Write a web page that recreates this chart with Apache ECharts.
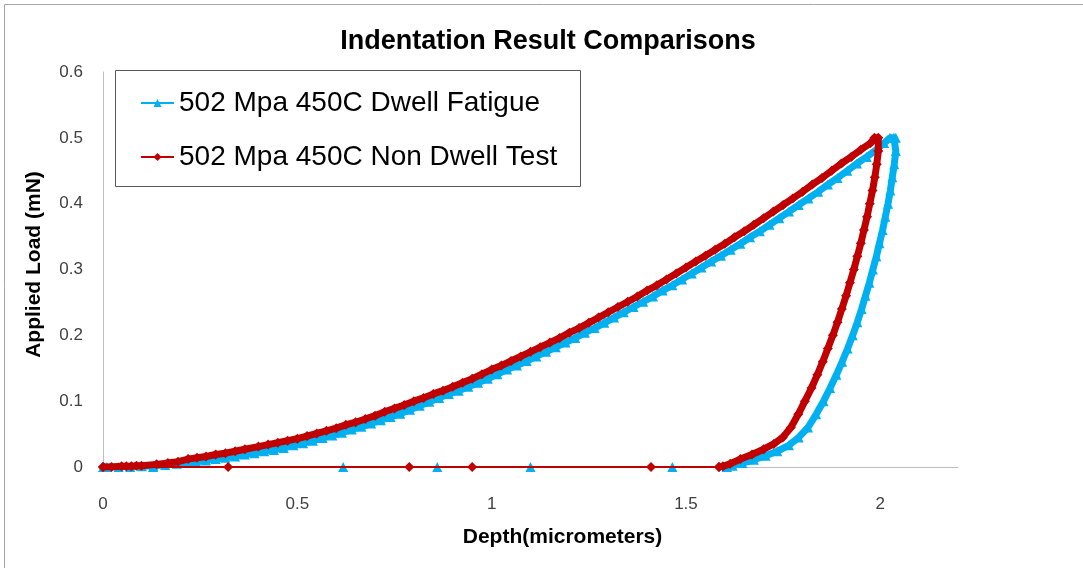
<!DOCTYPE html>
<html>
<head>
<meta charset="utf-8">
<script src="https://cdn.jsdelivr.net/npm/echarts@6/dist/echarts.min.js"></script>
<style>
  html, body { margin: 0; padding: 0; background: #ffffff; }
  #chart { width: 1083px; height: 568px; }
</style>
</head>
<body>
<div id="chart"></div>
<script>
const chartTitle = 'Indentation Result Comparisons';
const seriesNames = ['502 Mpa 450C Dwell Fatigue', '502 Mpa 450C Non Dwell Test'];
const xAxisTitle = 'Depth(micrometers)';
const yAxisTitle = 'Applied Load (mN)';
const xTickLabels = ['0', '0.5', '1', '1.5', '2'];
const yTickLabels = ['0', '0.1', '0.2', '0.3', '0.4', '0.5', '0.6'];

// Dwell fatigue test: loading, hold at peak, unloading (depth in micrometers, load in mN)
const dwellDepth = [
  0.000, 0.040, 0.070, 0.100, 0.130, 0.160, 0.190,
  0.215, 0.240, 0.265, 0.290, 0.315, 0.340, 0.365, 0.390, 0.415, 0.440,
  0.465, 0.490, 0.515, 0.540, 0.565, 0.590, 0.615, 0.640, 0.665, 0.690,
  0.715, 0.740, 0.765, 0.790, 0.815, 0.840, 0.865, 0.890, 0.915, 0.940,
  0.965, 0.990, 1.015, 1.040, 1.065, 1.090, 1.115, 1.140, 1.165, 1.190,
  1.215, 1.240, 1.265, 1.290, 1.315, 1.340, 1.365, 1.390, 1.415, 1.440,
  1.465, 1.490, 1.515, 1.540, 1.565, 1.590, 1.615, 1.640, 1.665, 1.690,
  1.715, 1.740, 1.765, 1.790, 1.815, 1.840, 1.865, 1.890, 1.915, 1.940,
  1.965, 1.990, 2.010, 2.025, 2.035,
  2.040, 2.040, 2.036, 2.031, 2.026, 2.020, 2.013, 2.006, 1.998, 1.990,
  1.981, 1.972, 1.962, 1.952, 1.941, 1.929, 1.916, 1.902, 1.887, 1.871,
  1.854, 1.835, 1.814, 1.790, 1.765, 1.735, 1.705, 1.675, 1.645, 1.620, 1.605
];
const dwellLoad = [
  0.000, 0.000, 0.000, 0.001, 0.002, 0.003, 0.005,
  0.006, 0.008, 0.010, 0.012, 0.014, 0.016, 0.019, 0.021, 0.024, 0.026,
  0.029, 0.033, 0.036, 0.040, 0.044, 0.048, 0.052, 0.057, 0.061, 0.066,
  0.071, 0.076, 0.081, 0.087, 0.093, 0.099, 0.105, 0.111, 0.116, 0.122,
  0.128, 0.134, 0.141, 0.148, 0.154, 0.161, 0.168, 0.175, 0.182, 0.189,
  0.196, 0.204, 0.211, 0.219, 0.227, 0.235, 0.243, 0.251, 0.259, 0.268,
  0.276, 0.285, 0.294, 0.303, 0.312, 0.321, 0.330, 0.339, 0.349, 0.358,
  0.368, 0.378, 0.388, 0.398, 0.408, 0.418, 0.429, 0.439, 0.450, 0.461,
  0.471, 0.482, 0.492, 0.500, 0.500,
  0.500, 0.480, 0.460, 0.440, 0.420, 0.400, 0.380, 0.360, 0.340, 0.320,
  0.300, 0.280, 0.260, 0.240, 0.220, 0.200, 0.180, 0.160, 0.140, 0.120,
  0.100, 0.080, 0.060, 0.045, 0.033, 0.024, 0.017, 0.011, 0.006, 0.002, 0.000
];
// Dwell fatigue test: zero-load return points
const dwellReturnDepth = [1.605, 1.465, 1.100, 0.860, 0.618, 0.129, 0.010];
const dwellReturnLoad = [0, 0, 0, 0, 0, 0, 0];

// Non-dwell test: loading, hold at peak, unloading
const nonDwellDepth = [
  0.000, 0.022, 0.048, 0.060, 0.073, 0.086, 0.099, 0.138, 0.167, 0.193,
  0.219, 0.242, 0.265, 0.290, 0.315, 0.340, 0.365,
  0.400, 0.425, 0.450, 0.475, 0.500, 0.525, 0.550, 0.575, 0.600, 0.625,
  0.650, 0.675, 0.700, 0.725, 0.750, 0.775, 0.800, 0.825, 0.850, 0.875,
  0.900, 0.925, 0.950, 0.975, 1.000, 1.025, 1.050, 1.075, 1.100, 1.125,
  1.150, 1.175, 1.200, 1.225, 1.250, 1.275, 1.300, 1.325, 1.350, 1.375,
  1.400, 1.425, 1.450, 1.475, 1.500, 1.525, 1.550, 1.575, 1.600, 1.625,
  1.650, 1.675, 1.700, 1.725, 1.750, 1.775, 1.800, 1.825, 1.850, 1.875,
  1.900, 1.925, 1.950, 1.975, 1.985,
  1.995, 1.995, 1.991, 1.986, 1.980, 1.973, 1.966, 1.958, 1.950, 1.941,
  1.932, 1.922, 1.912, 1.901, 1.890, 1.878, 1.865, 1.852, 1.838, 1.823,
  1.806, 1.789, 1.770, 1.749, 1.726, 1.700, 1.670, 1.640, 1.614, 1.595, 1.585
];
const nonDwellLoad = [
  0.000, 0.000, 0.001, 0.001, 0.001, 0.002, 0.002, 0.004, 0.006, 0.008,
  0.012, 0.014, 0.016, 0.019, 0.021, 0.024, 0.027,
  0.031, 0.034, 0.037, 0.040, 0.043, 0.047, 0.051, 0.055, 0.059, 0.064,
  0.068, 0.073, 0.078, 0.084, 0.089, 0.094, 0.100, 0.105, 0.111, 0.116,
  0.122, 0.128, 0.134, 0.141, 0.148, 0.154, 0.161, 0.168, 0.175, 0.182,
  0.189, 0.196, 0.204, 0.211, 0.219, 0.227, 0.235, 0.243, 0.251, 0.259,
  0.268, 0.276, 0.285, 0.294, 0.303, 0.312, 0.321, 0.330, 0.339, 0.349,
  0.358, 0.368, 0.378, 0.388, 0.398, 0.408, 0.418, 0.429, 0.439, 0.450,
  0.461, 0.471, 0.482, 0.492, 0.500,
  0.500, 0.480, 0.460, 0.440, 0.420, 0.400, 0.380, 0.360, 0.340, 0.320,
  0.300, 0.280, 0.260, 0.240, 0.220, 0.200, 0.180, 0.160, 0.140, 0.120,
  0.100, 0.080, 0.060, 0.045, 0.035, 0.027, 0.019, 0.012, 0.005, 0.001, 0.000
];
// Non-dwell test: zero-load return points
const nonDwellReturnDepth = [1.585, 1.410, 0.950, 0.788, 0.322, 0.000];
const nonDwellReturnLoad = [0, 0, 0, 0, 0, 0];

const BLUE = '#00B0F0';
const RED = '#C00000';
const FONT = 'Liberation Sans';

function pairs(xs, ys) {
  return xs.map((x, i) => [x, ys[i]]);
}

const chart = echarts.init(document.getElementById('chart'), null, { renderer: 'canvas' });

chart.setOption({
  animation: false,
  backgroundColor: '#ffffff',
  title: {
    text: chartTitle,
    left: 548,
    top: 28,
    padding: 0,
    textAlign: 'center',
    textStyle: { fontFamily: FONT, fontSize: 27, fontWeight: 'bold', color: '#000000' }
  },
  legend: {
    data: seriesNames,
    orient: 'vertical',
    left: 140,
    top: 89,
    padding: 0,
    itemWidth: 33,
    itemHeight: 10,
    itemGap: 26,
    lineStyle: { width: 2 },
    textStyle: { fontFamily: FONT, fontSize: 28, color: '#000000' }
  },
  grid: { left: 103, right: 125, top: 72, bottom: 101, containLabel: false },
  xAxis: {
    type: 'value',
    min: 0,
    max: 2.2,
    interval: 0.5,
    name: xAxisTitle,
    nameLocation: 'middle',
    nameGap: 60,
    nameTextStyle: {
      fontFamily: FONT, fontSize: 21, fontWeight: 'bold', color: '#000000',
      padding: [0, 0, 0, 64]
    },
    axisLine: { show: true, lineStyle: { color: '#BFBFBF', width: 1 } },
    axisTick: { show: false },
    splitLine: { show: false },
    axisLabel: {
      showMaxLabel: false,
      margin: 29,
      fontFamily: FONT,
      fontSize: 17,
      color: '#404040',
      formatter: v => {
        const s = String(+v.toFixed(2));
        return xTickLabels.includes(s) ? s : '';
      }
    }
  },
  yAxis: {
    type: 'value',
    min: 0,
    max: 0.6,
    interval: 0.1,
    name: yAxisTitle,
    nameLocation: 'middle',
    nameGap: 58,
    nameRotate: 90,
    nameTextStyle: {
      fontFamily: FONT, fontSize: 21, fontWeight: 'bold', color: '#000000',
      padding: [0, 0, 0, 10]
    },
    axisLine: { show: true, lineStyle: { color: '#BFBFBF', width: 1 } },
    axisTick: { show: false },
    splitLine: { show: false },
    axisLabel: {
      margin: 20,
      fontFamily: FONT,
      fontSize: 17,
      color: '#404040',
      formatter: v => {
        const s = String(+v.toFixed(2));
        return yTickLabels.includes(s) ? s : '';
      }
    }
  },
  graphic: [
    {
      type: 'polyline',
      silent: true,
      shape: { points: [[4.5, 568], [4.5, 4.5], [1083, 4.5]] },
      style: { stroke: '#A6A6A6', lineWidth: 1, fill: null }
    },
    {
      type: 'rect',
      silent: true,
      z: 0,
      shape: { x: 115.5, y: 70.5, width: 465, height: 116 },
      style: { stroke: '#595959', lineWidth: 1, fill: '#ffffff' }
    }
  ],
  series: [
    {
      name: seriesNames[0],
      type: 'line',
      data: pairs(dwellDepth, dwellLoad),
      symbol: 'triangle',
      symbolSize: 10,
      lineStyle: { color: BLUE, width: 7 },
      itemStyle: { color: BLUE },
      emphasis: { disabled: true },
      z: 3
    },
    {
      name: seriesNames[0],
      type: 'line',
      data: pairs(dwellReturnDepth, dwellReturnLoad),
      symbol: 'triangle',
      symbolSize: 10,
      lineStyle: { color: BLUE, width: 2 },
      itemStyle: { color: BLUE },
      emphasis: { disabled: true },
      z: 3
    },
    {
      name: seriesNames[1],
      type: 'line',
      data: pairs(nonDwellDepth, nonDwellLoad),
      symbol: 'diamond',
      symbolSize: 10,
      lineStyle: { color: RED, width: 7 },
      itemStyle: { color: RED },
      emphasis: { disabled: true },
      z: 4
    },
    {
      name: seriesNames[1],
      type: 'line',
      data: pairs(nonDwellReturnDepth, nonDwellReturnLoad),
      symbol: 'diamond',
      symbolSize: 10,
      lineStyle: { color: RED, width: 2 },
      itemStyle: { color: RED },
      emphasis: { disabled: true },
      z: 4
    }
  ]
});
</script>
</body>
</html>
